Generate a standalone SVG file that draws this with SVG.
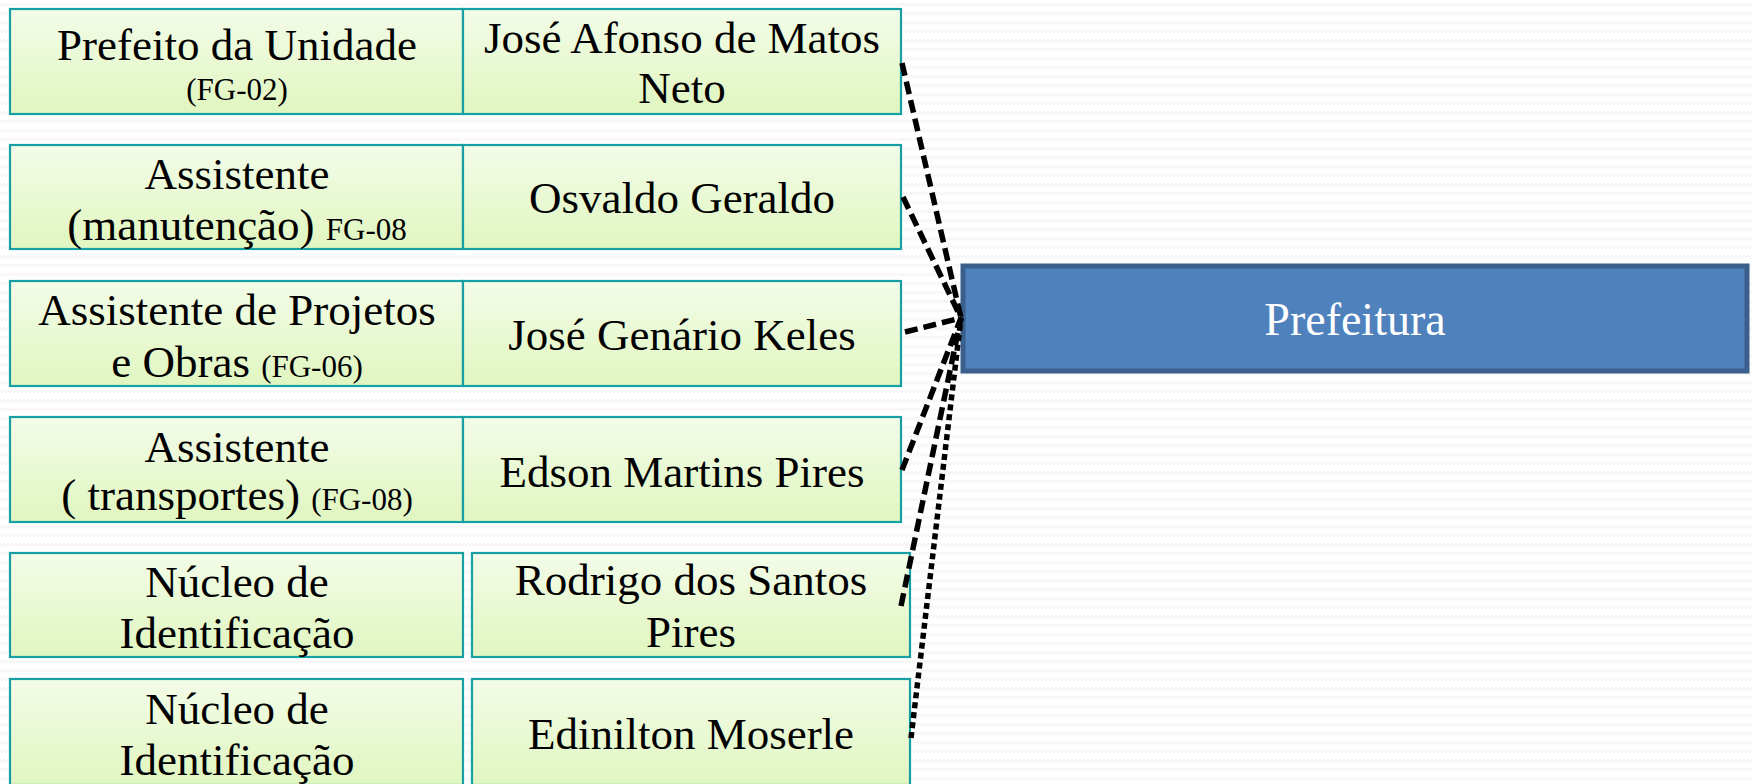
<svg xmlns="http://www.w3.org/2000/svg" width="1752" height="784" viewBox="0 0 1752 784">
  <defs>
    <pattern id="bgpat" width="8" height="9" patternUnits="userSpaceOnUse">
      <rect width="8" height="9" fill="#ffffff"/>
      <polyline points="0,3 2,6 4,3 6,6 8,3" fill="none" stroke="#f4f4f4" stroke-width="1.2"/>
    </pattern>
    <linearGradient id="gfill" x1="0" y1="0" x2="0" y2="1">
      <stop offset="0" stop-color="#f3fce8"/>
      <stop offset="1" stop-color="#e0f6c0"/>
    </linearGradient>
    <style>
      .box { fill: url(#gfill); stroke: #17a0a4; stroke-width: 2.2; }
      .t { font-family: "Liberation Serif", "Times New Roman", serif; font-size: 45px; fill: #000000; text-anchor: middle; }
      .s { font-size: 31px; }
      .conn { fill: none; stroke: #000000; stroke-width: 5.5; stroke-dasharray: 13 6; }
      .dot { fill: none; stroke: #000000; stroke-width: 5.5; stroke-dasharray: 6 4; }
      .main { fill: #4f81bd; stroke: #3a5f8b; stroke-width: 5; }
      .mt { font-family: "Liberation Serif", "Times New Roman", serif; font-size: 46px; fill: #ffffff; text-anchor: middle; }
    </style>
  </defs>
  <rect width="1752" height="784" fill="url(#bgpat)"/>

  <g id="row1-role">
    <rect class="box" x="10" y="9" width="453" height="105"/>
    <text class="t" x="237" y="60">Prefeito da Unidade</text>
    <text class="t s" x="237" y="100">(FG-02)</text>
  </g>
  <g id="row1-name">
    <rect class="box" x="463" y="9" width="438" height="105"/>
    <text class="t" x="682" y="53">José Afonso de Matos</text>
    <text class="t" x="682" y="103">Neto</text>
  </g>

  <g id="row2-role">
    <rect class="box" x="10" y="145" width="453" height="104"/>
    <text class="t" x="237" y="189">Assistente</text>
    <text class="t" x="237" y="240">(manutenção) <tspan class="s">FG-08</tspan></text>
  </g>
  <g id="row2-name">
    <rect class="box" x="463" y="145" width="438" height="104"/>
    <text class="t" x="682" y="213">Osvaldo Geraldo</text>
  </g>

  <g id="row3-role">
    <rect class="box" x="10" y="281" width="453" height="105"/>
    <text class="t" x="237" y="325">Assistente de Projetos</text>
    <text class="t" x="237" y="377">e Obras <tspan class="s">(FG-06)</tspan></text>
  </g>
  <g id="row3-name">
    <rect class="box" x="463" y="281" width="438" height="105"/>
    <text class="t" x="682" y="350">José Genário Keles</text>
  </g>

  <g id="row4-role">
    <rect class="box" x="10" y="417" width="453" height="105"/>
    <text class="t" x="237" y="462">Assistente</text>
    <text class="t" x="237" y="510">( transportes) <tspan class="s">(FG-08)</tspan></text>
  </g>
  <g id="row4-name">
    <rect class="box" x="463" y="417" width="438" height="105"/>
    <text class="t" x="682" y="487">Edson Martins Pires</text>
  </g>

  <g id="row5-role">
    <rect class="box" x="10" y="553" width="453" height="104"/>
    <text class="t" x="237" y="597">Núcleo de</text>
    <text class="t" x="237" y="648">Identificação</text>
  </g>
  <g id="row5-name">
    <rect class="box" x="472" y="553" width="438" height="104"/>
    <text class="t" x="691" y="595">Rodrigo dos Santos</text>
    <text class="t" x="691" y="647">Pires</text>
  </g>

  <g id="row6-role">
    <rect class="box" x="10" y="679" width="453" height="106"/>
    <text class="t" x="237" y="724">Núcleo de</text>
    <text class="t" x="237" y="775">Identificação</text>
  </g>
  <g id="row6-name">
    <rect class="box" x="472" y="679" width="438" height="106"/>
    <text class="t" x="691" y="749">Edinilton Moserle</text>
  </g>

  <g id="prefeitura">
    <rect class="main" x="963" y="266" width="784" height="105"/>
    <text class="mt" x="1355" y="335">Prefeitura</text>
  </g>

  <g id="connectors">
    <line class="conn" x1="902" y1="63" x2="961" y2="318"/>
    <line class="conn" x1="903" y1="197" x2="961" y2="318"/>
    <line class="conn" x1="905" y1="332" x2="961" y2="318"/>
    <line class="conn" x1="902" y1="470" x2="961" y2="318"/>
    <line class="conn" x1="901" y1="606" x2="961" y2="318"/>
    <line class="dot" x1="911" y1="738" x2="961" y2="318"/>
  </g>
</svg>
